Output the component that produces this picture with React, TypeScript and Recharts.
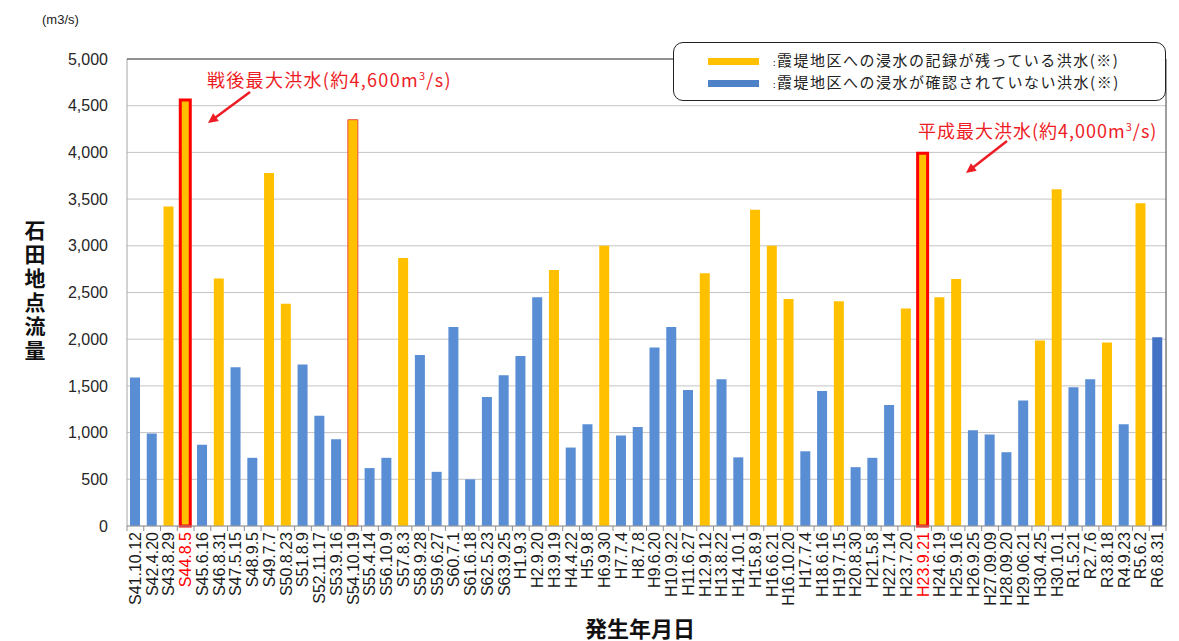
import { Bar, BarChart, CartesianGrid, Cell, XAxis, YAxis } from "recharts";

// 発生年月日
const categories = [
  "S41.10.12", "S42.4.20", "S43.8.29", "S44.8.5", "S45.6.16", "S46.8.31", "S47.5.15", "S48.9.5",
  "S49.7.7", "S50.8.23", "S51.8.9", "S52.11.17", "S53.9.16", "S54.10.19", "S55.4.14", "S56.10.9",
  "S57.8.3", "S58.9.28", "S59.6.27", "S60.7.1", "S61.6.18", "S62.5.23", "S63.9.25", "H1.9.3",
  "H2.9.20", "H3.9.19", "H4.4.22", "H5.9.8", "H6.9.30", "H7.7.4", "H8.7.8", "H9.6.20",
  "H10.9.22", "H11.6.27", "H12.9.12", "H13.8.22", "H14.10.1", "H15.8.9", "H16.6.21", "H16.10.20",
  "H17.7.4", "H18.6.16", "H19.7.15", "H20.8.30", "H21.5.8", "H22.7.14", "H23.7.20", "H23.9.21",
  "H24.6.19", "H25.9.16", "H26.9.25", "H27.09.09", "H28.09.20", "H29.06.21", "H30.4.25", "H30.10.1",
  "R1.5.21", "R2.7.6", "R3.8.18", "R4.9.23", "R5.6.2", "R6.8.31",
];

// 石田地点流量 (m3/s)
const flow = [
  1590, 990, 3420, 4560, 870, 2650, 1700, 730,
  3780, 2380, 1730, 1180, 930, 4350, 620, 730,
  2870, 1830, 580, 2130, 500, 1380, 1615, 1820,
  2450, 2740, 840, 1090, 3000, 970, 1060, 1910,
  2130, 1455, 2705, 1570, 735, 3385, 3000, 2430,
  800, 1445, 2405, 630, 730, 1295, 2330, 3990,
  2450, 2645, 1025, 980, 790, 1345, 1985, 3605,
  1485, 1570, 1965, 1090, 3455, 2020,
];

// y: 浸水の記録が残っている, b: 浸水が確認されていない, n: 最新
const kind = [
  "b", "b", "y", "y", "b", "y", "b", "b",
  "y", "y", "b", "b", "b", "y", "b", "b",
  "y", "b", "b", "b", "b", "b", "b", "b",
  "b", "y", "b", "b", "y", "b", "b", "b",
  "b", "b", "y", "b", "b", "y", "y", "y",
  "b", "b", "y", "b", "b", "b", "y", "y",
  "y", "y", "b", "b", "b", "b", "y", "y",
  "b", "b", "y", "b", "y", "n",
];

const redLabels = ["S44.8.5", "H23.9.21"];
const yTicks = [0, 500, 1000, 1500, 2000, 2500, 3000, 3500, 4000, 4500, 5000];

const legendItems = [
  { color: "#FFC000", text: "霞堤地区への浸水の記録が残っている洪水(※)" },
  { color: "#4F81C7", text: "霞堤地区への浸水が確認されていない洪水(※)" },
];

const data = categories.map((date, i) => ({ date, flow: flow[i], kind: kind[i] }));

const fills: Record<string, string> = { y: "#FFC000", b: "#5A8ED4", n: "#4472C4" };
const outline: Record<string, number> = { "S44.8.5": 3, "S54.10.19": 1, "H23.9.21": 3 };

const W = 1171;
const H = 633;
const M = { top: 51, right: 13, left: 49, bottom: 15 };
const Y_W = 70;
const X_H = 100;
const PLOT_L = M.left + Y_W;
const PLOT_R = W - M.right;
const PLOT_T = M.top;
const PLOT_B = H - M.bottom - X_H;
const BAND = (PLOT_R - PLOT_L) / categories.length;

const RED = "#EE1C25";
const JP = "'Noto Sans CJK JP', 'Noto Sans', sans-serif";
const LAT = "'Liberation Sans', Arial, sans-serif";

function DateTick(props: any) {
  const { x, y, payload, index } = props;
  const red = redLabels.includes(payload.value);
  return (
    <g>
      <line x1={x - BAND / 2} x2={x - BAND / 2} y1={y} y2={y + 5} stroke="#8C8C8C" />
      {index === categories.length - 1 && (
        <line x1={x + BAND / 2} x2={x + BAND / 2} y1={y} y2={y + 5} stroke="#8C8C8C" />
      )}
      <text
        x={x}
        y={y + 6}
        transform={`rotate(-90 ${x} ${y + 6})`}
        textAnchor="end"
        dominantBaseline="central"
        fontSize={16}
        fontFamily={LAT}
        fill={red ? "#FF0000" : "#1a1a1a"}
      >
        {payload.value}
      </text>
    </g>
  );
}

function Arrow({ x1, y1, x2, y2 }: { x1: number; y1: number; x2: number; y2: number }) {
  const a = Math.atan2(y2 - y1, x2 - x1);
  const h = 11;
  const w = 0.45;
  const p1 = `${x2 - h * Math.cos(a - w)},${y2 - h * Math.sin(a - w)}`;
  const p2 = `${x2 - h * Math.cos(a + w)},${y2 - h * Math.sin(a + w)}`;
  return (
    <g>
      <line x1={x1} y1={y1} x2={x2 - 6 * Math.cos(a)} y2={y2 - 6 * Math.sin(a)} stroke={RED} strokeWidth={2.5} />
      <polygon points={`${x2},${y2} ${p1} ${p2}`} fill={RED} />
    </g>
  );
}

export default function App() {
  return (
    <div style={{ position: "relative", width: W, height: H, background: "#fff" }}>
      <BarChart width={W} height={H} data={data} margin={M}>
        <CartesianGrid vertical={false} stroke="#C4C4C4" />
        <XAxis
          dataKey="date"
          interval={0}
          height={X_H}
          tickSize={0}
          tickMargin={0}
          tickLine={false}
          axisLine={{ stroke: "#9A9A9A" }}
          tick={<DateTick />}
        />
        <YAxis
          width={Y_W}
          domain={[0, 5000]}
          ticks={yTicks}
          tickLine={false}
          tickMargin={13}
          axisLine={{ stroke: "#A6A6A6" }}
          tick={{ fontSize: 16, fill: "#262626", fontFamily: LAT }}
          tickFormatter={(v: number) => v.toLocaleString("en-US")}
        />
        <Bar dataKey="flow" barSize={10} isAnimationActive={false}>
          {data.map((d) => (
            <Cell
              key={d.date}
              fill={fills[d.kind]}
              stroke={outline[d.date] ? (outline[d.date] > 1 ? "#FF0000" : "#E8503A") : "none"}
              strokeWidth={outline[d.date] || 0}
            />
          ))}
        </Bar>
      </BarChart>

      <svg
        width={W}
        height={H}
        style={{ position: "absolute", left: 0, top: 0, pointerEvents: "none" }}
      >
        <line x1={PLOT_L} x2={PLOT_R} y1={PLOT_T} y2={PLOT_T} stroke="#404040" />
        <line x1={PLOT_R} x2={PLOT_R} y1={PLOT_T} y2={PLOT_B} stroke="#404040" />
        <Arrow x1={242} y1={84} x2={200} y2={115} />
        <Arrow x1={999} y1={133} x2={958} y2={165} />
      </svg>

      <div style={{ position: "absolute", left: 34, top: 4, fontSize: 13, fontFamily: LAT, color: "#222" }}>
        (m3/s)
      </div>

      <div
        style={{
          position: "absolute",
          left: 14,
          top: 212,
          writingMode: "vertical-rl",
          fontSize: 21,
          letterSpacing: 3,
          lineHeight: "26px",
          fontWeight: 700,
          fontFamily: JP,
          color: "#111",
        }}
      >
        石田地点流量
      </div>

      <div
        style={{
          position: "absolute",
          left: 532,
          width: 200,
          top: 607,
          fontSize: 22,
          lineHeight: "24px",
          fontWeight: 700,
          fontFamily: JP,
          color: "#111",
          textAlign: "center",
        }}
      >
        発生年月日
      </div>

      <div
        style={{
          position: "absolute",
          left: 199,
          top: 55,
          fontSize: 18,
          letterSpacing: 1.3,
          lineHeight: "24px",
          fontFamily: JP,
          color: RED,
          whiteSpace: "nowrap",
        }}
      >
        戦後最大洪水(約4,600m<sup style={{ fontSize: 11 }}>3</sup>/s)
      </div>

      <div
        style={{
          position: "absolute",
          left: 910,
          top: 106,
          fontSize: 18,
          letterSpacing: 1,
          lineHeight: "24px",
          fontFamily: JP,
          color: RED,
          whiteSpace: "nowrap",
        }}
      >
        平成最大洪水(約4,000m<sup style={{ fontSize: 11 }}>3</sup>/s)
      </div>

      <div
        style={{
          position: "absolute",
          left: 665,
          top: 34,
          width: 491,
          height: 57,
          border: "1.5px solid #222",
          borderRadius: 10,
          background: "#fff",
          fontFamily: JP,
        }}
      >
        {legendItems.map((it, i) => (
          <div
            key={it.text}
            style={{
              position: "absolute",
              left: 34,
              top: 7 + i * 22,
              height: 22,
              display: "flex",
              alignItems: "center",
              whiteSpace: "nowrap",
            }}
          >
            <span style={{ display: "inline-block", width: 51, height: 7, background: it.color }} />
            <span style={{ marginLeft: 14, fontSize: 15, letterSpacing: 1.5, color: "#222", lineHeight: "22px" }}>
              <span style={{ fontSize: 9 }}>:</span>
              {it.text}
            </span>
          </div>
        ))}
      </div>
    </div>
  );
}
